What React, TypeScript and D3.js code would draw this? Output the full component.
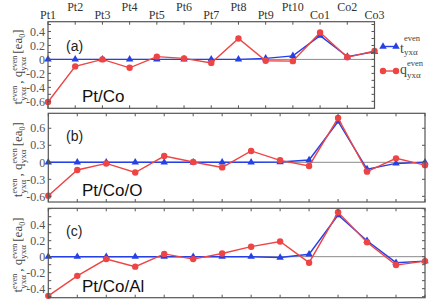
import React from 'react';
import * as d3 from 'd3';

// categories (atomic layers)
const catsA = ['Pt1', 'Pt2', 'Pt3', 'Pt4', 'Pt5', 'Pt6', 'Pt7', 'Pt8', 'Pt9', 'Pt10', 'Co1', 'Co2', 'Co3'];
const catsB = [...catsA, 'O'];
const catsC = [...catsA, 'Al'];

// t^even (blue) and q^even (red) per panel
const tA = [0, 0, 0, 0, 0, 0, 0, 0, 0.015, 0.05, 0.34, 0.04, 0.11];
const qA = [-0.61, -0.1, 0, -0.12, 0.04, 0.015, -0.05, 0.3, -0.02, -0.025, 0.385, 0.03, 0.12];
const tB = [0, 0, 0, 0, 0, 0, 0, 0, 0.005, 0.04, 0.72, -0.12, -0.02, 0];
const qB = [-0.59, -0.136, -0.02, -0.18, 0.11, 0.005, -0.09, 0.2, 0.035, -0.065, 0.78, -0.165, 0.07, -0.05];
const tC = [0, 0, 0, 0, 0, 0, 0, 0, -0.01, 0.03, 0.52, 0.2, -0.075, -0.055];
const qC = [-0.49, -0.24, -0.03, -0.125, 0.035, -0.03, 0.04, 0.125, 0.19, -0.075, 0.555, 0.18, -0.105, -0.055];

// y tick labels
const labelsA = [0.4, 0.2, 0, -0.2, -0.4, -0.6];
const labelsB = [0.6, 0.3, 0, -0.3, -0.6];
const labelsC = [0.4, 0.2, 0, -0.2, -0.4];

const RED = '#ef4444';
const BLUE = '#2540e6';
const FRAME = '#555';
const SERIF = '"Liberation Serif", "Times New Roman", serif';
const SANS = '"Liberation Sans", Arial, sans-serif';

const panels = [
  { tag: '(a)', name: 'Pt/Co', cats: catsA, t: tA, q: qA, labels: labelsA, domain: [-0.7, 0.54], minor: d3.range(-0.6, 0.55, 0.1),
    x0: 48, x1: 374.5, y0: 21.7, y1: 108.3, tagY: 51 },
  { tag: '(b)', name: 'Pt/Co/O', cats: catsB, t: tB, q: qB, labels: labelsB, domain: [-0.7, 0.864], minor: d3.range(-0.6, 0.85, 0.3),
    x0: 48.3, x1: 425, y0: 113.3, y1: 202, tagY: 141 },
  { tag: '(c)', name: 'Pt/Co/Al', cats: catsC, t: tC, q: qC, labels: labelsC, domain: [-0.513, 0.605], minor: d3.range(-0.5, 0.61, 0.1),
    x0: 48.3, x1: 425, y0: 208.3, y1: 297.7, tagY: 236 },
];

const fmt = (v: number) => (Math.abs(v) < 1e-9 ? '0' : String(v));

const triangle = d3.symbol().type(d3.symbolTriangle).size(24)();

const AxisTitle = ({ x, cy }: { x: number; cy: number }) => (
  <text transform={`translate(${x},${cy}) rotate(-90)`} textAnchor="middle" fontFamily={SERIF} fontSize={13} fill="#444">
    {'t'}
    <tspan dy={-5} fontSize={8}>even</tspan>
    <tspan dx={-15} dy={9} fontSize={9}>yxα</tspan>
    <tspan dy={-4} fontSize={13}>{' , q'}</tspan>
    <tspan dy={-5} fontSize={8}>even</tspan>
    <tspan dx={-15} dy={9} fontSize={9}>yxα</tspan>
    <tspan dy={-4} fontSize={13}>{' [ea'}</tspan>
    <tspan dy={3} fontSize={8}>0</tspan>
    <tspan dy={-3} fontSize={13}>]</tspan>
  </text>
);

const Panel = ({ p, showTop }: { p: typeof panels[number]; showTop: boolean }) => {
  const x = d3.scalePoint<string>().domain(p.cats).range([p.x0, p.x1]).padding(0);
  const y = d3.scaleLinear().domain(p.domain).range([p.y1, p.y0]);
  const line = d3.line<number>().x((_, i) => x(p.cats[i])!).y((d) => y(d));
  return (
    <g>
      {/* zero line */}
      <line x1={p.x0} x2={p.x1} y1={y(0)} y2={y(0)} stroke="#8a8a8a" strokeWidth={1} />
      {/* t series */}
      <path d={line(p.t)!} fill="none" stroke={BLUE} strokeWidth={1.4} />
      {p.t.map((d, i) => (
        <path key={'t' + i} d={triangle} transform={`translate(${x(p.cats[i])},${y(d)})`} fill={BLUE} />
      ))}
      {/* q series */}
      <path d={line(p.q)!} fill="none" stroke={RED} strokeWidth={1.4} />
      {p.q.map((d, i) => (
        <circle key={'q' + i} cx={x(p.cats[i])} cy={y(d)} r={3.2} fill={RED} />
      ))}
      {/* frame */}
      <rect x={p.x0} y={p.y0} width={p.x1 - p.x0} height={p.y1 - p.y0} fill="none" stroke={FRAME} strokeWidth={1.2} />
      {/* category ticks */}
      {p.cats.map((c) => (
        <g key={c}>
          <line x1={x(c)} x2={x(c)} y1={p.y0} y2={p.y0 + 3} stroke={FRAME} />
          <line x1={x(c)} x2={x(c)} y1={p.y1} y2={p.y1 - 3} stroke={FRAME} />
        </g>
      ))}
      {/* value ticks */}
      {p.minor.map((v, i) => (
        <g key={'m' + i}>
          <line x1={p.x0} x2={p.x0 + 3} y1={y(v)} y2={y(v)} stroke={FRAME} />
          <line x1={p.x1} x2={p.x1 - 3} y1={y(v)} y2={y(v)} stroke={FRAME} />
        </g>
      ))}
      {p.labels.map((v) => (
        <text key={'l' + v} x={p.x0 - 3} y={y(v)} dy="0.35em" textAnchor="end" fontFamily={SERIF} fontSize={12} fill="#555">
          {fmt(v)}
        </text>
      ))}
      {showTop &&
        p.cats.map((c, i) => (
          <text key={'c' + c} x={x(c)} y={i % 2 === 0 ? p.y0 - 2.5 : p.y0 - 10.5} textAnchor="middle" fontFamily={SERIF} fontSize={12} fill="#333">
            {c}
          </text>
        ))}
      <text x={66} y={p.tagY} fontFamily={SANS} fontSize={14} fill="#222">{p.tag}</text>
      <text x={82} y={p.y1 - 6} fontFamily={SANS} fontSize={17} fill="#111">{p.name}</text>
      <AxisTitle x={22} cy={(p.y0 + p.y1) / 2 + 2} />
    </g>
  );
};

const Legend = () => (
  <g fontFamily={SERIF} fill="#444">
    <line x1={383} x2={396} y1={46.5} y2={46.5} stroke={BLUE} strokeWidth={1.4} />
    <path d={triangle} transform="translate(383,46.5)" fill={BLUE} />
    <path d={triangle} transform="translate(396,46.5)" fill={BLUE} />
    <text x={400} y={53} fontSize={14}>t</text>
    <text x={404} y={41} fontSize={8.5}>even</text>
    <text x={404} y={55} fontSize={9}>yxα</text>

    <line x1={383} x2={396} y1={71} y2={71} stroke={RED} strokeWidth={1.4} />
    <circle cx={383} cy={71} r={3.2} fill={RED} />
    <circle cx={396} cy={71} r={3.2} fill={RED} />
    <text x={400} y={74} fontSize={14}>q</text>
    <text x={407} y={65.5} fontSize={8.5}>even</text>
    <text x={407} y={78} fontSize={9}>yxα</text>
  </g>
);

export default function App() {
  return (
    <div style={{ position: 'absolute', left: 0, top: 0 }}>
      <svg width={436} height={306} style={{ display: 'block', background: '#fff' }}>
        {panels.map((p, i) => (
          <Panel key={p.tag} p={p} showTop={i === 0} />
        ))}
        <Legend />
      </svg>
    </div>
  );
}
